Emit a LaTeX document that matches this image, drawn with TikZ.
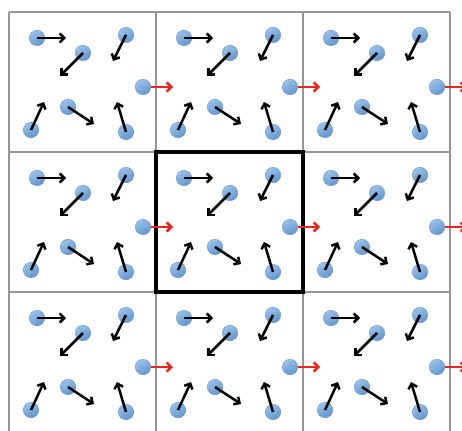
\documentclass[tikz,border=0pt]{standalone}
\usetikzlibrary{arrows.meta}
\definecolor{ballblue}{RGB}{108,166,226}
\definecolor{gridgray}{RGB}{150,150,150}
\definecolor{velred}{RGB}{232,40,30}
\begin{document}
\begin{tikzpicture}[
   x=1pt,y=-1pt,
   ball/.style={circle,top color=ballblue!70!white,bottom color=ballblue!90!black,shading angle=30,draw=ballblue!80!black,line width=0.3pt,minimum size=15.5pt,inner sep=0pt},
   vel/.style={line width=2.5pt,-{Straight Barb[length=4.5pt,width=9pt]}},
   outvel/.style={vel,velred},
   cellline/.style={gridgray,line width=1.5pt},
   hostcell/.style={black,line width=3.5pt}
 ]
  \useasboundingbox (0,0) rectangle (462,430);
  \clip (0,0) rectangle (462,430);
  \fill[white] (0,0) rectangle (462,430);
  % periodic images of the box
  \foreach \k in {0,1,2,3}{
    \draw[cellline] (9+147*\k,12) -- (9+147*\k,432);
    \draw[cellline] (9,12+140*\k) -- (450,12+140*\k);
  }
  \draw[hostcell] (156,152) rectangle (303,292);
  % particles, same in every cell
  \foreach \i in {0,1,2}{
   \foreach \j in {0,1,2}{
    \begin{scope}[shift={(9+147*\i,12+140*\j)}]
      \node[ball] (a\i\j) at (28,26) {};
      \node[ball] (b\i\j) at (117,23) {};
      \node[ball] (c\i\j) at (74,41) {};
      \node[ball] (d\i\j) at (134,75) {};
      \node[ball] (e\i\j) at (22,118) {};
      \node[ball] (f\i\j) at (59,95) {};
      \node[ball] (g\i\j) at (117,120) {};
      \coordinate (ta\i\j) at (57,26);
      \coordinate (tb\i\j) at (104,49);
      \coordinate (tc\i\j) at (51,64);
      \coordinate (td\i\j) at (164,75);
      \coordinate (te\i\j) at (35,90);
      \coordinate (tf\i\j) at (85,112);
      \coordinate (tg\i\j) at (108,90);
      \draw[vel] (a\i\j.center) -- (ta\i\j);
      \draw[vel] (b\i\j.center) -- (tb\i\j);
      \draw[vel] (c\i\j.center) -- (tc\i\j);
      \draw[outvel] (d\i\j.east) -- (td\i\j);
      \draw[vel] (e\i\j.center) -- (te\i\j);
      \draw[vel] (f\i\j.center) -- (tf\i\j);
      \draw[vel] (g\i\j.center) -- (tg\i\j);
    \end{scope}
   }
  }
\end{tikzpicture}
\end{document}
